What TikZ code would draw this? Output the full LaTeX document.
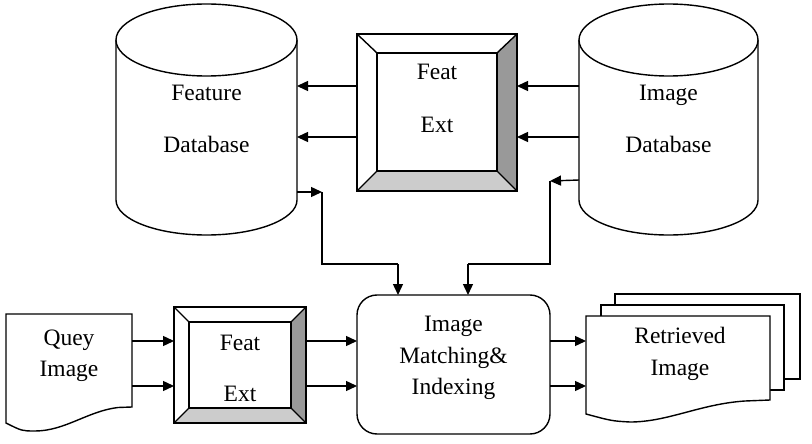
\documentclass[tikz,border=0pt]{standalone}
\usepackage{fontspec}
\setmainfont{Liberation Serif}
\usetikzlibrary{arrows.meta}
\definecolor{darkbevel}{RGB}{153,153,153}
\definecolor{lightbevel}{RGB}{204,204,204}
\begin{document}
\begin{tikzpicture}[x=1pt,y=-1pt,line width=1.4pt,
  lbl/.style={font=\fontsize{23.5}{28}\selectfont,anchor=base,inner sep=0pt},
  arr/.style={-{Triangle[length=11pt,width=10pt]}},
  shp/.style={draw,fill=white,line width=1.4pt}]
\useasboundingbox[fill=white] (0,0) rectangle (812,444);

% ---------- Feature Database cylinder ----------
\draw[shp] (116,40) -- (116,200)
  .. controls (116,219.3) and (156.5,235) .. (206.5,235)
  .. controls (256.5,235) and (297,219.3) .. (297,200) -- (297,40);
\draw[shp] (206.5,40) ellipse [x radius=90.5pt, y radius=36pt];
\node[lbl] (fdbA) at (206.5,101) {Feature};
\node[lbl] (fdbB) at (206.5,153) {Database};

% ---------- Image Database cylinder ----------
\draw[shp] (579,40) -- (579,200)
  .. controls (579,219.3) and (619,235) .. (668.5,235)
  .. controls (718,235) and (758,219.3) .. (758,200) -- (758,40);
\draw[shp] (668.5,40) ellipse [x radius=89.5pt, y radius=36pt];
\node[lbl] (idbA) at (668.5,101) {Image};
\node[lbl] (idbB) at (668.5,153) {Database};

% ---------- Top Feat Ext bevel box ----------
\fill[darkbevel] (517,34) -- (517,191) -- (497,171) -- (497,53) -- cycle;
\fill[lightbevel] (357,191) -- (517,191) -- (497,171) -- (377,171) -- cycle;
\draw (357,34) rectangle (517,191);
\draw (377,53) rectangle (497,171);
\draw (357,34) -- (377,53) (517,34) -- (497,53) (357,191) -- (377,171) (517,191) -- (497,171);
\node[lbl] (feA) at (437,80) {Feat};
\node[lbl] (feB) at (437,132) {Ext};

% ---------- Query Image document ----------
\draw[shp] (6,314) -- (132,314) -- (132,407) -- (118,407.5)
  .. controls (88,411) and (65,431) .. (35,431)
  .. controls (22,431) .. (6,423) -- cycle;
\node[lbl] (qA) at (69,345) {Quey};
\node[lbl] (qB) at (69,376) {Image};

% ---------- Bottom Feat Ext bevel box ----------
\fill[darkbevel] (306,307) -- (306,423) -- (291,408) -- (291,322) -- cycle;
\fill[lightbevel] (174,423) -- (306,423) -- (291,408) -- (189,408) -- cycle;
\draw (174,307) rectangle (306,423);
\draw (189,322) rectangle (291,408);
\draw (174,307) -- (189,322) (306,307) -- (291,322) (174,423) -- (189,408) (306,423) -- (291,408);
\node[lbl] (fe2A) at (240,350) {Feat};
\node[lbl] (fe2B) at (240,401) {Ext};

% ---------- Matching box ----------
\node[draw,rounded corners=20pt,minimum width=193pt,minimum height=139pt,inner sep=0pt] (match) at (453.5,364.5) {};
\node[lbl] (mA) at (453.5,331) {Image};
\node[lbl] (mB) at (453.5,363) {Matching\&};
\node[lbl] (mC) at (453.5,394) {Indexing};

% ---------- Retrieved Image stack ----------
\draw[shp] (615,294) rectangle (800,379);
\draw[shp] (601,305) rectangle (784,390);
\draw[shp] (586,316) -- (770,316) -- (770,400) -- (745,401)
  .. controls (700,404) and (668,422) .. (630,422)
  .. controls (612,421) .. (586,414) -- cycle;
\node[lbl] (rA) at (680,343) {Retrieved};
\node[lbl] (rB) at (680,375) {Image};

% ---------- connector end points ----------
\coordinate (feL1) at (357,86);  \coordinate (fdbR1) at (297,86);
\coordinate (feL2) at (357,137); \coordinate (fdbR2) at (297,137);
\coordinate (idbL1) at (579,86); \coordinate (feR1) at (517,86);
\coordinate (idbL2) at (579,137);\coordinate (feR2) at (517,137);
\coordinate (fdbOut) at (297,192); \coordinate (lV) at (322,192);
\coordinate (lC) at (322,264); \coordinate (lT) at (398,264);
\coordinate (idbOut) at (579,180); \coordinate (rV) at (550,181);
\coordinate (rC) at (550,264); \coordinate (rT) at (468,264);
\coordinate (qR1) at (132,341); \coordinate (fe2L1) at (174,341);
\coordinate (qR2) at (132,386); \coordinate (fe2L2) at (174,386);
\coordinate (fe2R1) at (306,341); \coordinate (mL1) at (357,341);
\coordinate (fe2R2) at (306,386); \coordinate (mL2) at (357,386);
\coordinate (mR1) at (550,341); \coordinate (rtL1) at (586,341);
\coordinate (mR2) at (550,386); \coordinate (rtL2) at (586,386);
\coordinate (mT1) at (398,295); \coordinate (mT2) at (468,295);

% ---------- connectors ----------
\draw[arr] (feL1) -- (fdbR1);
\draw[arr] (feL2) -- (fdbR2);
\draw[arr] (idbL1) -- (feR1);
\draw[arr] (idbL2) -- (feR2);
\draw[arr] (fdbOut) -- (lV);
\draw (lV) -- (lC) -- (lT);
\draw[arr] (lT) -- (mT1);
\draw[arr] (idbOut) -- (rV);
\draw (rV) -- (rC) -- (rT);
\draw[arr] (rT) -- (mT2);
\draw[arr] (qR1) -- (fe2L1);
\draw[arr] (qR2) -- (fe2L2);
\draw[arr] (fe2R1) -- (mL1);
\draw[arr] (fe2R2) -- (mL2);
\draw[arr] (mR1) -- (rtL1);
\draw[arr] (mR2) -- (rtL2);
\end{tikzpicture}
\end{document}
